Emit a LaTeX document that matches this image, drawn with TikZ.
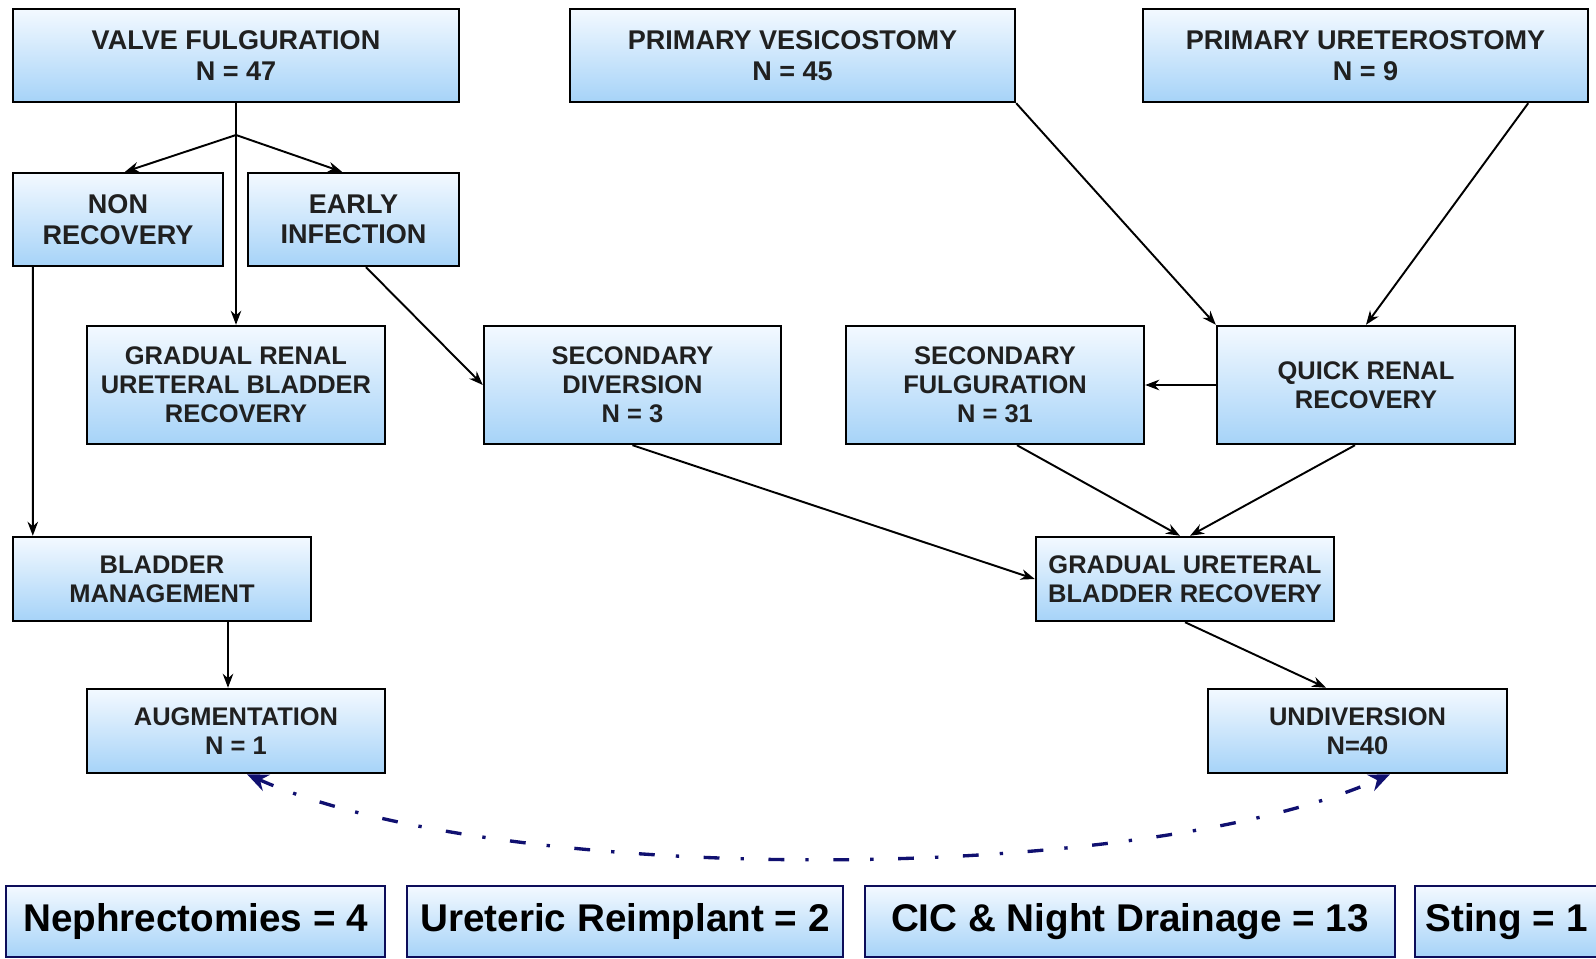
\documentclass[tikz,border=0pt]{standalone}
\usepackage{fontspec}
\setmainfont{Liberation Sans}
\usetikzlibrary{arrows.meta}
\definecolor{boxtop}{RGB}{243,249,255}
\definecolor{boxbot}{RGB}{166,211,248}
\definecolor{ink}{RGB}{32,32,32}
\definecolor{navyline}{RGB}{16,16,112}

\begin{document}
\begin{tikzpicture}[x=0.02cm,y=-0.02cm,
	stage/.style={draw=black,line width=1.4pt,top color=boxtop,bottom color=boxbot,
		align=center,text=ink,inner sep=0pt,font=\fontsize{14.5}{16.5}\selectfont\bfseries},
	bigstage/.style={stage,font=\fontsize{15.4}{17.4}\selectfont\bfseries},
	tally/.style={draw=navyline!80!black,line width=1.4pt,top color=boxtop,bottom color=boxbot,
		minimum height=1.42cm,inner sep=0pt,font=\fontsize{22}{26}\selectfont\bfseries},
	arr/.style={-{Stealth[length=8pt,width=6pt]},line width=1.1pt}]
	\useasboundingbox (0,0) rectangle (1596,959);

	% first row
	\node[bigstage,minimum width=8.92cm,minimum height=1.86cm] at (236,55.5)(vf){VALVE FULGURATION\\N = 47};
	\node[bigstage,minimum width=8.9cm,minimum height=1.86cm] at (792.5,55.5)(pv){PRIMARY VESICOSTOMY\\N = 45};
	\node[bigstage,minimum width=8.9cm,minimum height=1.86cm] at (1365.5,55.5)(pu){PRIMARY URETEROSTOMY\\N = 9};

	\node[bigstage,minimum width=4.2cm,minimum height=1.86cm] at (118,219.5)(nr){NON\\RECOVERY};
	\node[bigstage,minimum width=4.22cm,minimum height=1.86cm] at (353.5,219.5)(ei){EARLY\\INFECTION};

	% middle row
	\node[stage,minimum width=5.96cm,minimum height=2.36cm] at (236,385)(gr){GRADUAL RENAL\\URETERAL BLADDER\\RECOVERY};
	\node[stage,minimum width=5.94cm,minimum height=2.36cm] at (632.5,385)(sd){SECONDARY\\DIVERSION\\N = 3};
	\node[stage,minimum width=5.96cm,minimum height=2.36cm] at (995,385)(sf){SECONDARY\\FULGURATION\\N = 31};
	\node[stage,minimum width=5.96cm,minimum height=2.36cm] at (1366,385)(qr){QUICK RENAL\\RECOVERY};

	\node[stage,minimum width=5.96cm,minimum height=1.68cm] at (162,579)(bm){BLADDER\\MANAGEMENT};
	\node[stage,minimum width=5.96cm,minimum height=1.68cm] at (1185,579)(gurb){GRADUAL URETERAL\\BLADDER RECOVERY};

	\node[stage,minimum width=5.96cm,minimum height=1.68cm] at (236,731)(aug){AUGMENTATION\\N = 1};
	\node[stage,minimum width=5.98cm,minimum height=1.68cm] at (1357.5,731)(und){UNDIVERSION\\N=40};

	% totals along the bottom
	\node[tally,minimum width=7.58cm] at (195.5,921.5)(neph){Nephrectomies = 4};
	\node[tally,minimum width=8.72cm] at (625,921.5)(reimp){Ureteric Reimplant = 2};
	\node[tally,minimum width=10.6cm] at (1130,921.5)(cic){CIC \& Night Drainage = 13};
	\node[tally,minimum width=3.66cm] at (1506.5,921.5)(sting){Sting = 1};

	\coordinate (split) at (236,135);
	\coordinate (augin) at ([xshift=-0.16cm]aug.north);
	\path[arr]
		(vf) edge (gr)
		(split) edge ([xshift=0.14cm]nr.north)
		(split) edge ([xshift=-0.23cm]ei.north)
		([xshift=0.42cm]nr.south west) edge ([xshift=0.42cm]bm.north west)
		([xshift=0.25cm]ei.south) edge (sd.west)
		(pv.south east) edge (qr.north west)
		([xshift=-1.22cm]pu.south east) edge (qr.north)
		(qr) edge (sf)
		([xshift=0.44cm]sf.south) edge ([xshift=-0.1cm]gurb.north)
		([xshift=-0.22cm]qr.south) edge ([xshift=0.1cm]gurb.north)
		(sd.south) edge (gurb.west)
		(augin |- bm.south) edge (augin)
		(gurb.south) edge ([xshift=-0.63cm]und.north);

	% link between the two outcomes
	\coordinate (augfoot) at ([xshift=0.22cm]aug.south);
	\coordinate (undfoot) at ([xshift=0.65cm]und.south);
	\draw[navyline,line width=1.9pt,dash pattern=on 9pt off 12pt on 1.9pt off 14pt,
		{Stealth[length=12pt,width=10pt]}-{Stealth[length=12pt,width=10pt]}]
		(augfoot) to[out=-24,in=204,looseness=0.62] (undfoot);
\end{tikzpicture}
\end{document}
